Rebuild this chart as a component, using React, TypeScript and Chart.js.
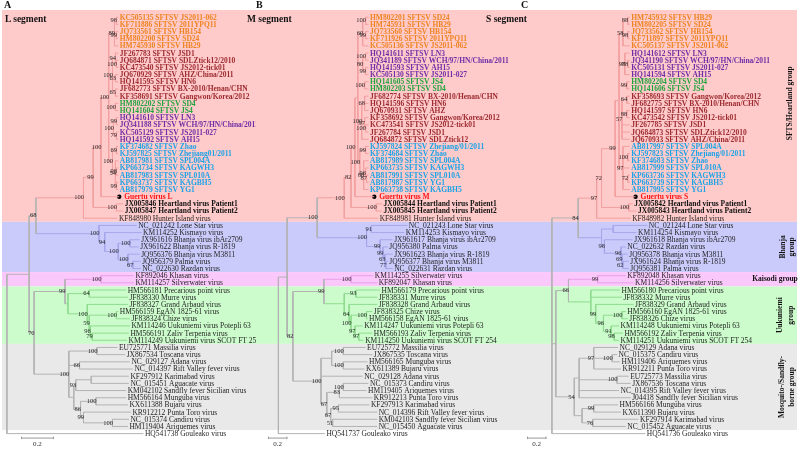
import React, { useEffect, useRef } from "react";
import { Chart, registerables } from "chart.js";

Chart.register(...registerables);

const SERIF = '"Liberation Serif", "Times New Roman", Times, serif';

// ---------- groups (rows per group, same order in all three panels) ----------
const groupRows = [29, 7, 2, 8, 12];
const groupLabelLines = [
  ["SFTS/Heartland group"],
  ["Bhanja", "group"],
  ["Kaisodi group"],
  ["Uukuniemi", "group"],
  ["Mosquito-/Sandfly-", "borne group"],
];
const groupLabelRow = [12, 32, 36.5, 41.5, 51.5];
const bandFill = ["#ffcaca", "#cbcbfb", "#fbc8fb", "#ccfccc", "#e9e9e9"];
const branchStroke = ["#f2a0a0", "#a6a6ea", "#e8a0e8", "#8fdb8f", "#b3b3b3"];
const mixedStroke = "#b3b3b3";

const styleColor: Record<string, string> = {
  O: "#ee8422", M: "#9c2b30", G: "#1fa43c", P: "#6e2fa6", B: "#1ba3e6", R: "#ff1414", H: "#111111", N: "#1e1e1e",
};

// ---------- Panel A : L segment ----------
const namesA = [
  "KC505135 SFTSV JS2011-062", "KF711886 SFTSV 2011YPQ11", "JQ733561 SFTSV HB154", "HM802200 SFTSV SD24", "HM745930 SFTSV HB29",
  "JF267783 SFTSV JSD1", "JQ684871 SFTSV SDLZtick12/2010", "KC473540 SFTSV JS2012-tick01", "JQ670929 SFTSV AHZ/China/2011",
  "HQ141595 SFTSV HN6", "JF682773 SFTSV BX-2010/Henan/CHN", "KF358691 SFTSV Gangwon/Korea/2012", "HM802202 SFTSV SD4",
  "HQ141604 SFTSV JS4", "HQ141610 SFTSV LN3", "JQ341188 SFTSV WCH/97/HN/China/2011", "KC505129 SFTSV JS2011-027",
  "HQ141592 SFTSV AH15", "KF374682 SFTSV Zhao", "KJ597825 SFTSV Zhejiang01/2011", "AB817981 SFTSV SPL004A",
  "KP663734 SFTSV KAGWH3", "AB817983 SFTSV SPL010A", "KP663737 SFTSV KAGBH5", "AB817979 SFTSV YG1", "Guertu virus L",
  "JX005846 Heartland virus Patient1", "JX005847 Heartland virus Patient2", "KF848980 Hunter Island virus",
  "NC_021242 Lone Star virus", "KM114252 Kismayo virus", "JX961616 Bhanja virus ibAr2709", "JX961622 Bhanja virus R-1819",
  "JQ956376 Bhanja virus M3811", "JQ956379 Palma virus", "NC_022630 Razdan virus", "KF892046 Khasan virus",
  "KM114257 Silverwater virus", "HM566181 Precarious point virus", "JF838330 Murre virus", "JF838327 Grand Arbaud virus",
  "HM566159 EgAN 1825-61 virus", "JF838324 Chize virus", "KM114246 Uukuniemi virus Potepli 63", "HM566191 Zaliv Terpenia virus",
  "KM114249 Uukuniemi virus SCOT FT 254", "EU725771 Massilia virus", "JX867534 Toscana virus", "NC_029127 Adana virus",
  "NC_014397 Rift Valley fever virus", "KF297912 Karimabad virus", "NC_015451 Aguacate virus",
  "KM042102 Sandfly fever Sicilian virus", "HM566164 Munguba virus", "KX611388 Bujaru virus", "KR912212 Punta Toro virus",
  "NC_015374 Candiru virus", "HM119404 Ariquemes virus", "HQ541738 Gouleako virus",
];
const stylesA = "OOOOOMMMMMMMGGPPPPBBBBBBBRHHN";
const depthA = [
  0.676, 0.676, 0.676, 0.676, 0.676, 0.676, 0.676, 0.676, 0.676, 0.676, 0.676, 0.676, 0.676,
  0.676, 0.676, 0.676, 0.676, 0.676, 0.676, 0.676, 0.676, 0.676, 0.676, 0.676, 0.676,
  0.682, 0.706, 0.706, 0.671,
  0.788, 0.818, 0.806, 0.8, 0.806, 0.812, 0.812,
  0.771, 0.771,
  0.724, 0.735, 0.735, 0.676, 0.747, 0.747, 0.741, 0.729,
  0.671, 0.718, 0.747, 0.765, 0.741, 0.741, 0.724, 0.724, 0.735, 0.753, 0.741, 0.735,
  0.829,
];
// node = [depth, bootstrap, ...children]; numbers are leaf rows
const treeA = [0, "",
  [0.135, "",
    [0.176, "68",
      [0.465, "100",
        [0.524, "99",
          [0.571, "100",
            [0.618, "100",
              [0.653, "89", [0.665, "98", 0, 1], [0.665, "99", 2, 3], 4],
              [0.641, "100", [0.659, "94", 5, [0.665, "100", 6, 7]], [0.659, "63", 8, 9], [0.659, "65", 10, 11]],
              [0.659, "100", 12, 13],
              [0.647, "100", [0.665, "99", 14, 15], [0.665, "79", 16, 17]],
              [0.641, "100", [0.665, "69", 18, 19], [0.659, "54", 20, [0.665, "98", 21, 22], [0.665, "99", 23, 24]]],
            ],
            25,
          ],
          [0.665, "100", 26, 27],
        ],
        28,
      ],
      [0.559, "100",
        29,
        [0.594, "94", 30, [0.676, "100", [0.747, "100", 31, 32], [0.735, "100", 33, [0.765, "67", 34, 35]]]],
      ],
    ],
    [0.165, "70",
      [0.353, "99",
        [0.571, "100", 36, 37],
        [0.371, "",
          [0.5, "64", 38, 39],
          [0.488, "100", 40, [0.5, "59", [0.665, "100", 41, 42], [0.506, "96", 43, [0.518, "79", 44, 45]]]],
        ],
      ],
      [0.376, "100",
        [0.547, "100", 46, 47],
        [0.441, "66", 48, 49],
        [0.406, "",
          [0.418, "93", [0.512, "", 50, 51], 52],
          [0.447, "86", [0.541, "100", 53, 54], [0.465, "99", 55, [0.641, "100", 56, 57]]],
        ],
      ],
    ],
  ],
  58,
];

// ---------- Panel B : M segment ----------
const namesB = [
  "HM802201 SFTSV SD24", "HM745931 SFTSV HB29", "JQ733560 SFTSV HB154", "KF711926 SFTSV 2011YPQ11", "KC505136 SFTSV JS2011-062",
  "HQ141611 SFTSV LN3", "JQ341189 SFTSV WCH/97/HN/China/2011", "HQ141593 SFTSV AH15", "KC505130 SFTSV JS2011-027",
  "HQ141605 SFTSV JS4", "HM802203 SFTSV SD4", "JF682774 SFTSV BX-2010/Henan/CHN", "HQ141596 SFTSV HN6", "JQ670931 SFTSV AHZ",
  "KF358692 SFTSV Gangwon/Korea/2012", "KC473541 SFTSV JS2012-tick01", "JF267784 SFTSV JSD1", "JQ684872 SFTSV SDLZtick12",
  "KJ597824 SFTSV Zhejiang/01/2011", "KF374684 SFTSV Zhao", "AB817989 SFTSV SPL004A", "KP663735 SFTSV KAGWH3",
  "AB817991 SFTSV SPL010A", "AB817987 SFTSV YG1", "KP663738 SFTSV KAGBH5", "Guertu virus M",
  "JX005844 Heartland virus Patient1", "JX005845 Heartland virus Patient2", "KF848981 Hunter Island virus",
  "NC_021243 Lone Star virus", "KM114253 Kismayo virus", "JX961617 Bhanja virus ibAr2709", "JQ956380 Palma virus",
  "JX961623 Bhanja virus R-1819", "JQ956377 Bhanja virus M3811", "NC_022631 Razdan virus", "KM114255 Silverwater virus",
  "KF892047 Khasan virus", "HM566179 Precarious point virus", "JF838331 Murre virus", "JF838328 Grand Arbaud virus",
  "JF838325 Chize virus", "HM566158 EgAN 1825-61 virus", "KM114247 Uukuniemi virus Potepli 63", "HM566193 Zaliv Terpenia virus",
  "KM114250 Uukuniemi virus SCOT FT 254", "EU725772 Massilia virus", "JX867535 Toscana virus", "HM566165 Munguba virus",
  "KX611389 Bujaru virus", "NC_029128 Adana virus", "NC_015373 Candiru virus", "HM119405 Ariquemes virus",
  "KR912213 Punta Toro virus", "KF297913 Karimabad virus", "NC_014396 Rift Valley fever virus",
  "KM042103 Sandfly fever Sicilian virus", "NC_015450 Aguacate virus", "HQ541737 Gouleako virus",
];
const stylesB = "OOOOOPPPPGGMMMMMMMBBBBBBBRHHN";
const depthB = [
  0.93, 0.93, 0.93, 0.93, 0.93, 0.93, 0.93, 0.93, 0.93, 0.93, 0.93, 0.93, 0.93,
  0.93, 0.93, 0.93, 0.93, 0.93, 0.93, 0.93, 0.93, 0.93, 0.93, 0.93, 0.93,
  0.99, 1.07, 1.07, 1.03,
  1.33, 1.30, 1.18, 1.13, 1.18, 1.13, 1.18,
  0.98, 1.02,
  1.05, 1.02, 1.02, 0.97, 0.92, 0.87, 0.97, 0.88,
  0.90, 0.97, 0.92, 0.89, 0.87, 0.93, 0.91, 0.97, 0.94, 1.02, 1.02, 1.02,
  0.48,
];
const treeB = [0, "",
  [0.09, "",
    [0.40, "100",
      [0.68, "100",
        [0.75, "82",
          [0.79, "100",
            [0.82, "",
              [0.87, "60", [0.90, "100", 0, 1], [0.90, "99", 2, 3], 4],
              [0.87, "80", [0.90, "100", 5, 6], [0.90, "99", 7, 8]],
              [0.89, "100", 9, 10],
              [0.86, "100", [0.89, "68", 11, 12, 13], [0.89, "97", 14, [0.90, "100", 15, 16]], 17],
              [0.84, "100", [0.90, "99", 18, 19], [0.88, "88", 20, [0.90, "96", 21, [0.91, "87", 22, 23]], 24]],
            ],
            25,
          ],
          [1.01, "100", 26, 27],
        ],
        28,
      ],
      [0.91, "100",
        [0.96, "91", 29, 30],
        [1.05, "99", 31, [1.08, "99", 32, [1.10, "63", 33, [1.11, "77", 34, 35]]]],
      ],
    ],
    [0.15, "82",
      [0.47, "99",
        [0.75, "100", 36, 37],
        [0.68, "",
          [0.80, "93", 38, 39],
          [0.73, "64", 40, [0.75, "100", [0.91, "100", 41, 42], [0.79, "97", 43, [0.83, "97", 44, 45]]]],
        ],
      ],
      [0.44, "100",
        [0.55, "", [0.67, "100", 46, 47], [0.67, "100", 48, 49]],
        50,
        [0.50, "67",
          [0.63, "83", [0.67, "100", 51, 52], 53],
          [0.54, "67", [0.62, "95", 54, 55], [0.56, "51", 56, 57]],
        ],
      ],
    ],
  ],
  58,
];

// ---------- Panel C : S segment ----------
const namesC = [
  "HM745932 SFTSV HB29", "HM802205 SFTSV SD24", "JQ733562 SFTSV HB154", "KF711897 SFTSV 2011YPQ11", "KC505137 SFTSV JS2011-062",
  "HQ141612 SFTSV LN3", "JQ341190 SFTSV WCH/97/HN/China/2011", "KC505131 SFTSV JS2011-027", "HQ141594 SFTSV AH15",
  "HM802204 SFTSV SD4", "HQ141606 SFTSV JS4", "KF358693 SFTSV Gangwon/Korea/2012", "JF682775 SFTSV BX-2010/Henan/CHN",
  "HQ141597 SFTSV HN6", "KC473542 SFTSV JS2012-tick01", "JF267785 SFTSV JSD1", "JQ684873 SFTSV SDLZtick12/2010",
  "JQ670933 SFTSV AHZ/China/2011", "AB817997 SFTSV SPL004A", "KJ597823 SFTSV Zhejiang/01/2011", "KF374683 SFTSV Zhao",
  "AB817999 SFTSV SPL010A", "KP663736 SFTSV KAGWH3", "KP663739 SFTSV KAGBH5", "AB817995 SFTSV YG1", "Guertu virus S",
  "JX005842 Heartland virus Patient1", "JX005843 Heartland virus Patient2", "KF848982 Hunter Island virus",
  "NC_021244 Lone Star virus", "KM114254 Kismayo virus", "JX961618 Bhanja virus ibAr2709", "NC_022632 Razdan virus",
  "JQ956378 Bhanja virus M3811", "JX961624 Bhanja virus R-1819", "JQ956381 Palma virus", "KF892048 Khasan virus",
  "KM114256 Silverwater virus", "HM566180 Precarious point virus", "JF838332 Murre virus", "JF838329 Grand Arbaud virus",
  "HM566160 EgAN 1825-61 virus", "JF838326 Chize virus", "KM114248 Uukuniemi virus Potepli 63", "HM566192 Zaliv Terpenia virus",
  "KM114251 Uukuniemi virus SCOT FT 254", "NC_029129 Adana virus", "NC_015375 Candiru virus", "HM119406 Ariquemes virus",
  "KR912211 Punta Toro virus", "EU725773 Massilia virus", "JX867536 Toscana virus", "NC_014395 Rift Valley fever virus",
  "J04418 Sandfly fever Sicilian virus", "HM566166 Munguba virus", "KX611390 Bujaru virus", "KF297914 Karimabad virus",
  "NC_015452 Aguacate virus", "HQ541736 Gouleako virus",
];
const stylesC = "OOOOOPPPPGGMMMMMMMBBBBBBBRHHN";
const depthC = [
  0.80, 0.80, 0.80, 0.80, 0.80, 0.80, 0.80, 0.80, 0.80, 0.80, 0.80, 0.80, 0.80,
  0.80, 0.80, 0.80, 0.80, 0.80, 0.80, 0.80, 0.80, 0.80, 0.80, 0.80, 0.80,
  0.86, 0.83, 0.87, 0.81,
  0.98, 0.87, 0.83, 0.76, 0.78, 0.79, 0.79,
  0.76, 0.84,
  0.70, 0.72, 0.84, 0.76, 0.78, 0.69, 0.73, 0.69,
  0.68, 0.67, 0.70, 0.71, 0.79, 0.81, 0.69, 0.81, 0.68, 0.71, 0.89, 0.76,
  0.96,
];
const treeC = [0, "",
  [0.27, "84",
    [0.46, "97",
      [0.51, "72",
        [0.65, "99",
          [0.69, "",
            [0.73, "58", [0.78, "88", 0, 1], [0.78, "98", 2, 3], 4],
            [0.75, "98", 5, [0.78, "78", 6, 7], 8],
            [0.77, "99", 9, 10],
            [0.72, "57", [0.77, "64", 11, 12], [0.77, "88", 13, 14], 15, 16, 17],
            [0.73, "97", 18, [0.78, "100", 19, 20], 21, [0.78, "72", 22, 23], 24],
          ],
          25,
        ],
        [0.79, "100", 26, 27],
      ],
      28,
    ],
    [0.51, "",
      [0.63, "", 29, 30],
      [0.54, "98", 31, [0.71, "96", 32, [0.72, "69", 33, [0.73, "62", 34, 35]]]],
    ],
  ],
  [0.04, "",
    [0.17, "66",
      [0.47, "99", 36, 37],
      [0.40, "",
        38, 39,
        [0.45, "99", 40, [0.53, "96", [0.72, "100", 41, 42], [0.61, "91", 43, [0.64, "98", 44, 45]]]],
      ],
    ],
    [0.23, "54",
      [0.28, "",
        [0.43, "97", 46, [0.62, "100", 47, 48], 49],
        [0.67, "100", 50, 51],
        52, 53,
      ],
      [0.31, "", [0.43, "99", 54, 55], [0.42, "76", 56, 57]],
    ],
  ],
  58,
];

const scaleBarLength = 0.2;
const guertuRow = 25;

// ---------- layout of the three panels (page pixels) ----------
const panels = [
  { id: "A", names: namesA, styles: stylesA, depths: depthA, tree: treeA, left: 0, width: 256, rootAbs: 3, pxPerUnit: 170, bandFrom: 2, bandTo: 256, barAbs: 21, groupLabels: false },
  { id: "B", names: namesB, styles: stylesB, depths: depthB, tree: treeB, left: 256, width: 254, rootAbs: 275, pxPerUnit: 100, bandFrom: 256, bandTo: 510, barAbs: 268, groupLabels: false },
  { id: "C", names: namesC, styles: stylesC, depths: depthC, tree: treeC, left: 510, width: 290, rootAbs: 549, pxPerUnit: 100, bandFrom: 510, bandTo: 797, barAbs: 527, groupLabels: true },
];
const groupLabelX = [[790], [783, 792], [775], [780, 791], [782, 792]];

const titles = [
  { t: "A", x: 4, y: 0, size: 10 },
  { t: "L segment", x: 5, y: 15, size: 9.5 },
  { t: "B", x: 256, y: 0, size: 10 },
  { t: "M segment", x: 247, y: 15, size: 9.5 },
  { t: "C", x: 521, y: 0, size: 10 },
  { t: "S segment", x: 486, y: 15, size: 9.5 },
];

function groupOfRow(r: number): number {
  let acc = 0;
  for (let g = 0; g < groupRows.length; g++) {
    acc += groupRows[g];
    if (r < acc) return g;
  }
  return -1;
}

type Seg = { x0: number; y0: number; x1: number; y1: number; g: number };

function layoutTree(tree: any, depths: number[]) {
  const segs: Seg[] = [];
  const boots: { x: number; y: number; t: string }[] = [];
  const walk = (n: any, px: number | null): { y: number; g: number } => {
    if (typeof n === "number") {
      const g = groupOfRow(n);
      if (px !== null) segs.push({ x0: px, y0: n, x1: depths[n], y1: n, g });
      return { y: n, g };
    }
    const [d, label, ...kids] = n;
    const res = kids.map((k: any) => walk(k, d));
    const yTop = res[0].y;
    const yBot = res[res.length - 1].y;
    const y = (yTop + yBot) / 2;
    const g = res.every((r: any) => r.g === res[0].g) ? res[0].g : -1;
    segs.push({ x0: d, y0: yTop, x1: d, y1: yBot, g });
    if (px !== null) segs.push({ x0: px, y0: y, x1: d, y1: y, g });
    if (label) boots.push({ x: d, y, t: label });
    return { y, g };
  };
  walk(tree, null);
  return { segs, boots };
}

function makeChart(canvas: HTMLCanvasElement, p: any) {
  const { segs, boots } = layoutTree(p.tree, p.depths);
  const keys = [-1, 4, 3, 2, 1, 0];
  const datasets: any[] = keys.map((g) => ({
    label: "branches" + g,
    data: segs
      .filter((s) => s.g === g)
      .flatMap((s) => [{ x: s.x0, y: s.y0 }, { x: s.x1, y: s.y1 }, { x: null, y: null }]),
    showLine: true,
    spanGaps: false,
    borderColor: g < 0 ? mixedStroke : branchStroke[g],
    borderWidth: 1,
    pointRadius: 0,
    pointHoverRadius: 0,
  }));
  datasets.push({
    label: "guertu",
    data: [{ x: p.depths[guertuRow], y: guertuRow }],
    showLine: false,
    pointRadius: 2.2,
    pointBackgroundColor: "#000",
    pointBorderColor: "#000",
    pointBorderWidth: 0,
  });

  const rootLocal = p.rootAbs - p.left;
  const xmin = -rootLocal / p.pxPerUnit;
  const xmax = xmin + p.width / p.pxPerUnit;

  const plugin = {
    id: "phylo" + p.id,
    beforeDatasetsDraw(chart: any) {
      const { ctx } = chart;
      const ys = chart.scales.y;
      let start = 0;
      groupRows.forEach((n, g) => {
        const top = ys.getPixelForValue(g === 0 ? -1 : start - 0.5);
        const bot = ys.getPixelForValue(start + n - 0.5);
        ctx.fillStyle = bandFill[g];
        ctx.fillRect(p.bandFrom - p.left, top, p.bandTo - p.bandFrom, bot - top);
        start += n;
      });
    },
    afterDatasetsDraw(chart: any) {
      const { ctx } = chart;
      const xs = chart.scales.x;
      const ys = chart.scales.y;
      ctx.save();
      // bootstrap values
      ctx.font = `6.5px ${SERIF}`;
      ctx.fillStyle = "#2a2a2a";
      ctx.textAlign = "right";
      ctx.textBaseline = "middle";
      boots.forEach((b) => {
        ctx.fillText(b.t, xs.getPixelForValue(b.x) + 0.5, ys.getPixelForValue(b.y));
      });
      // leaf labels
      ctx.textAlign = "left";
      p.names.forEach((name: string, i: number) => {
        const st = i < p.styles.length ? p.styles[i] : "N";
        const bold = st !== "N";
        ctx.font = `${bold ? "bold " : ""}7.5px ${SERIF}`;
        ctx.fillStyle = styleColor[st];
        const x = xs.getPixelForValue(p.depths[i]) + (i === guertuRow ? 5 : 1.5);
        ctx.fillText(name, x, ys.getPixelForValue(i) + 0.5);
      });
      // scale bar
      const bx0 = p.barAbs - p.left;
      const v0 = xs.getValueForPixel(bx0);
      const bx1 = xs.getPixelForValue(v0 + scaleBarLength);
      const by = ys.getPixelForValue(58.55);
      ctx.strokeStyle = "#9a9a9a";
      ctx.lineWidth = 1;
      ctx.beginPath();
      ctx.moveTo(bx0, by + 0.5);
      ctx.lineTo(bx1, by + 0.5);
      ctx.moveTo(bx0 + 0.5, by - 1);
      ctx.lineTo(bx0 + 0.5, by + 1.5);
      ctx.moveTo(bx1 - 0.5, by - 1);
      ctx.lineTo(bx1 - 0.5, by + 1.5);
      ctx.stroke();
      ctx.font = `7px ${SERIF}`;
      ctx.fillStyle = "#333";
      ctx.textAlign = "center";
      ctx.fillText(String(scaleBarLength), (bx0 + bx1) / 2, by + 7);
      // group labels
      if (p.groupLabels) {
        ctx.fillStyle = "#111";
        ctx.font = `bold 7.5px ${SERIF}`;
        ctx.textAlign = "center";
        ctx.textBaseline = "middle";
        groupLabelLines.forEach((lines, g) => {
          const y = ys.getPixelForValue(groupLabelRow[g]);
          lines.forEach((line, k) => {
            const x = groupLabelX[g][k] - p.left;
            if (g === 2) {
              ctx.fillText(line, x, y);
            } else {
              ctx.save();
              ctx.translate(x, y);
              ctx.rotate(-Math.PI / 2);
              ctx.fillText(line, 0, 0);
              ctx.restore();
            }
          });
        });
      }
      ctx.restore();
    },
  };

  return new Chart(canvas, {
    type: "scatter",
    data: { datasets },
    options: {
      animation: false,
      responsive: false,
      maintainAspectRatio: false,
      events: [],
      layout: { padding: { top: 10, bottom: 0, left: 0, right: 0 } },
      scales: {
        x: { type: "linear", display: false, min: xmin, max: xmax },
        y: { type: "linear", display: false, min: -1, max: 60, reverse: true },
      },
      plugins: { legend: { display: false }, tooltip: { enabled: false } },
    } as any,
    plugins: [plugin],
  });
}

export default function App() {
  const r0 = useRef<HTMLCanvasElement>(null);
  const r1 = useRef<HTMLCanvasElement>(null);
  const r2 = useRef<HTMLCanvasElement>(null);
  const refs = [r0, r1, r2];

  useEffect(() => {
    const charts = panels.map((p, i) => makeChart(refs[i].current as HTMLCanvasElement, p));
    return () => charts.forEach((c) => c.destroy());
  }, []);

  return (
    <div style={{ position: "fixed", left: 0, top: 0, width: 800, height: 452, background: "#fff", overflow: "hidden" }}>
      {panels.map((p, i) => (
        <canvas
          key={p.id}
          ref={refs[i]}
          width={p.width}
          height={452}
          style={{ position: "absolute", left: p.left, top: 0, width: p.width, height: 452 }}
        />
      ))}
      {titles.map((t) => (
        <span
          key={t.t}
          style={{
            position: "absolute",
            left: t.x,
            top: t.y,
            fontFamily: SERIF,
            fontWeight: "bold",
            fontSize: t.size,
            lineHeight: 1,
            color: "#111",
            whiteSpace: "nowrap",
          }}
        >
          {t.t}
        </span>
      ))}
    </div>
  );
}
